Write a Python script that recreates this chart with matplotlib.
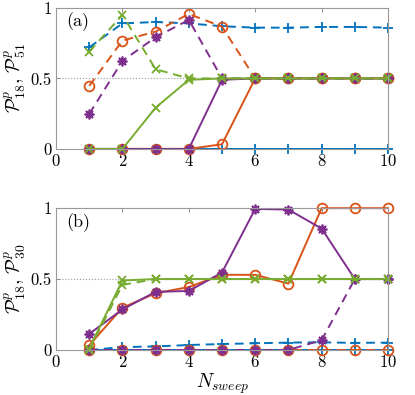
import matplotlib
matplotlib.use("Agg")
import matplotlib.pyplot as plt

plt.rcParams['font.family'] = 'serif'
plt.rcParams['font.serif'] = ['cmr10', 'DejaVu Serif']
plt.rcParams['mathtext.fontset'] = 'cm'
plt.rcParams['axes.formatter.use_mathtext'] = True

# sweep count
n_sweep = [1, 2, 3, 4, 5, 6, 7, 8, 9, 10]

# panel (a): P18 (solid) and P51 (dashed)
a_blue_solid = [0, 0, 0, 0, 0, 0, 0, 0, 0, 0]
a_blue_dash = [0.72, 0.89, 0.90, 0.89, 0.87, 0.86, 0.86, 0.865, 0.865, 0.86]
a_orange_solid = [0, 0, 0, 0, 0.033, 0.5, 0.5, 0.5, 0.5, 0.5]
a_orange_dash = [0.447, 0.768, 0.832, 0.957, 0.867, 0.5, 0.5, 0.5, 0.5, 0.5]
a_purple_solid = [0, 0, 0, 0, 0.49, 0.5, 0.5, 0.5, 0.5, 0.5]
a_purple_dash = [0.248, 0.624, 0.792, 0.915, 0.5, 0.5, 0.5, 0.5, 0.5, 0.5]
a_green_solid = [0, 0, 0.293, 0.49, 0.5, 0.5, 0.5, 0.5, 0.5, 0.5]
a_green_dash = [0.69, 0.95, 0.565, 0.5, 0.5, 0.5, 0.5, 0.5, 0.5, 0.5]

# panel (b): P18 (solid) and P30 (dashed)
b_blue_solid = [0, 0, 0, 0, 0, 0, 0, 0, 0, 0]
b_blue_dash = [0.0, 0.02, 0.025, 0.035, 0.042, 0.047, 0.052, 0.054, 0.05, 0.052]
b_orange_solid = [0.033, 0.298, 0.40, 0.444, 0.53, 0.53, 0.468, 1.0, 1.0, 1.0]
b_orange_dash = [0, 0, 0, 0, 0, 0, 0, 0, 0, 0]
b_purple_solid = [0.113, 0.286, 0.41, 0.416, 0.546, 0.995, 0.99, 0.856, 0.5, 0.5]
b_purple_dash = [0, 0, 0, 0, 0, 0, 0, 0.069, 0.5, 0.5]
b_green_solid = [0.01, 0.49, 0.5, 0.5, 0.5, 0.5, 0.5, 0.5, 0.5, 0.5]
b_green_dash = [0.0, 0.459, 0.5, 0.5, 0.5, 0.5, 0.5, 0.5, 0.5, 0.5]

colors = {'blue': '#0072BD', 'orange': '#D95319', 'purple': '#7E2F8E', 'green': '#77AC30'}
# matlab-ish markers, the '*' is an 8-armed asterisk
markers = {'blue': '+', 'orange': 'o', 'purple': (8, 2, 0), 'green': 'x'}
msizes = {'blue': 7.5, 'orange': 7, 'purple': 7, 'green': 6}


def draw_panel(ax, series, tag, ylabel):
    ax.axhline(0.5, color='0.6', lw=0.8, ls=':', zorder=0)
    for name, solid, dash in series:
        c = colors[name]
        m = markers[name]
        ms = msizes[name]
        ax.plot(n_sweep, solid, '-', color=c, marker=m, lw=1.4, ms=ms,
                mfc='none', mew=1.3, clip_on=False)
        ax.plot(n_sweep, dash, '--', color=c, marker=m, lw=1.4, ms=ms,
                mfc='none', mew=1.3, dashes=(4.5, 3), clip_on=False)
    ax.set_xlim(0, 10)
    ax.set_ylim(0, 1)
    ax.set_xticks([0, 2, 4, 6, 8, 10])
    ax.set_yticks([0, 0.5, 1])
    ax.set_yticklabels(['0', '0.5', '1'])
    ax.tick_params(direction='in', top=True, right=True, length=3,
                   width=0.6, color='0.5', labelsize=12, pad=3)
    for sp in ax.spines.values():
        sp.set_color('0.6')
        sp.set_linewidth(0.8)
    ax.text(0.3, 0.9, tag, fontsize=13, va='center', ha='left')
    ax.set_ylabel(ylabel, fontsize=14, labelpad=2)


fig = plt.figure(figsize=(4.15, 3.95), dpi=100)
ax1 = fig.add_axes([0.135, 0.623, 0.80, 0.357])
ax2 = fig.add_axes([0.135, 0.114, 0.80, 0.359])

draw_panel(ax1, [('blue', a_blue_solid, a_blue_dash),
                 ('orange', a_orange_solid, a_orange_dash),
                 ('purple', a_purple_solid, a_purple_dash),
                 ('green', a_green_solid, a_green_dash)],
           '(a)', r'$\mathcal{P}^p_{18},\,\mathcal{P}^p_{51}$')
draw_panel(ax2, [('blue', b_blue_solid, b_blue_dash),
                 ('orange', b_orange_solid, b_orange_dash),
                 ('purple', b_purple_solid, b_purple_dash),
                 ('green', b_green_solid, b_green_dash)],
           '(b)', r'$\mathcal{P}^p_{18},\,\mathcal{P}^p_{30}$')
ax2.set_xlabel(r'$N_{sweep}$', fontsize=14, labelpad=1)

fig.savefig('out.png', dpi=100)
